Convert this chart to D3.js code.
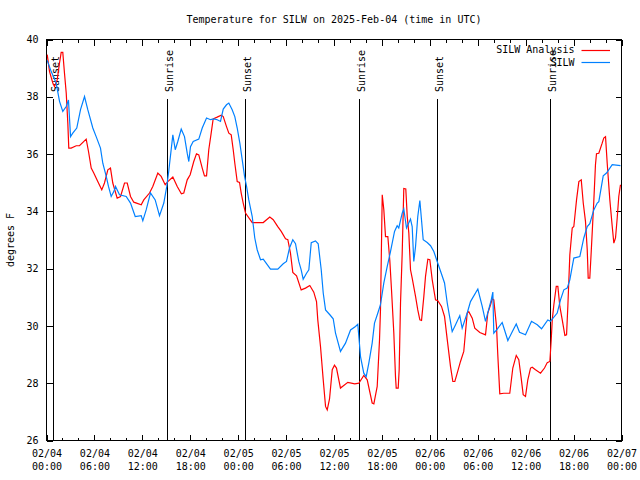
<!DOCTYPE html>
<html><head><meta charset="utf-8">
<script src="https://cdn.jsdelivr.net/npm/d3@7"></script>
<style>
html,body{margin:0;padding:0;background:#fff;}
text{font-family:"DejaVu Sans Mono",monospace;font-size:10px;fill:#000;}
</style></head>
<body><svg id="c" width="640" height="480"></svg>
<script>
const titleText = "Temperature for SILW on 2025-Feb-04 (time in UTC)";
const yLabel = "degrees F";
const seriesNames = ["SILW Analysis", "SILW"];
const seriesColors = ["#ff0000", "#0080ff"];
const yTicks = [26, 28, 30, 32, 34, 36, 38, 40];

// hours since 2025-02-04 00:00 UTC
const analysisHours = [0.09,0.38,0.79,1.00,1.34,1.63,1.84,2.04,2.25,2.47,2.67,2.79,3.09,3.72,4.13,4.97,5.26,5.60,5.92,6.42,6.92,7.26,7.68,8.01,8.30,8.85,9.27,9.77,10.11,10.52,10.93,11.86,12.18,12.90,13.31,13.94,14.36,14.86,15.19,15.82,16.37,16.89,17.19,17.62,17.99,18.44,18.78,19.07,19.50,19.78,20.04,20.32,20.62,20.87,21.37,21.88,22.13,22.54,22.83,23.13,23.38,23.58,23.88,24.17,24.38,24.63,24.92,25.76,27.14,27.96,28.39,28.96,29.39,29.93,30.22,30.55,30.84,31.31,31.89,32.43,32.97,33.47,33.81,33.97,34.31,34.65,34.94,35.15,35.44,35.78,36.06,36.31,36.81,37.73,38.60,39.11,39.73,40.16,40.78,40.99,41.41,41.70,41.82,42.04,42.24,42.45,42.74,42.99,43.20,43.49,43.70,43.79,44.04,44.16,44.33,44.54,44.74,44.99,45.17,45.37,45.58,45.79,46.21,46.49,46.75,46.96,47.25,47.46,47.75,48.00,48.30,48.71,49.00,49.46,49.84,50.18,50.59,50.88,51.13,51.43,51.84,52.25,52.68,52.88,53.31,53.63,54.26,54.97,55.26,55.60,55.81,56.01,56.35,56.51,56.76,57.26,58.01,58.39,58.82,59.14,59.44,59.69,59.98,60.27,60.61,60.82,61.23,61.86,62.36,62.70,63.03,63.20,63.33,63.53,63.83,64.03,64.28,64.58,64.91,65.12,65.28,65.53,65.83,66.03,66.37,66.66,66.96,67.21,67.49,67.71,67.83,68.03,68.21,68.53,68.74,68.87,69.16,69.58,69.78,70.00,70.21,70.54,70.84,71.04,71.25,71.46,71.66,71.87];
const analysisTemps = [39.47,38.88,38.48,38.36,38.59,39.18,39.55,39.55,38.83,38.13,37.08,36.21,36.21,36.29,36.29,36.52,36.09,35.51,35.34,35.04,34.75,34.99,35.45,35.51,34.99,34.46,34.52,34.99,34.99,34.52,34.32,34.23,34.40,34.64,34.87,35.34,35.22,34.93,35.04,35.20,34.87,34.61,34.64,35.10,35.28,35.74,36.01,35.97,35.51,35.24,35.24,36.15,36.73,37.23,37.29,37.36,37.31,36.96,36.73,36.67,36.15,35.68,35.04,35.01,34.64,34.29,33.94,33.61,33.61,33.80,33.71,33.47,33.30,33.04,33.01,32.54,31.87,31.75,31.26,31.32,31.41,31.18,30.85,30.21,29.28,28.12,27.19,27.07,27.45,28.47,28.63,28.53,27.83,28.03,27.98,28.00,28.27,28.12,27.31,27.28,27.89,29.52,30.56,34.58,34.05,33.12,33.12,32.28,31.26,29.75,28.23,27.83,27.83,28.47,30.80,32.54,34.80,34.78,33.82,33.24,31.96,31.67,31.03,30.56,30.21,30.19,31.03,31.73,32.33,32.31,31.61,30.91,30.88,30.68,30.33,29.52,28.58,28.06,28.06,28.35,28.76,29.11,30.45,30.50,30.27,29.92,29.77,29.69,30.45,30.74,30.95,30.91,29.98,28.99,27.63,27.65,27.65,28.53,28.97,28.82,28.18,27.60,27.54,28.12,28.53,28.56,28.47,28.35,28.53,28.72,28.76,29.52,30.21,30.74,31.38,31.38,30.68,30.21,29.67,29.69,30.68,32.48,33.42,33.47,34.40,35.04,35.10,34.29,33.65,32.66,31.67,31.67,32.60,34.34,35.63,36.01,36.03,36.38,36.56,36.61,35.68,34.40,33.47,32.89,33.07,33.76,34.52,34.93];

const obsHours = [0.09,0.59,1.21,1.63,2.04,2.47,2.75,3.01,3.29,3.79,4.26,4.76,5.17,5.80,6.22,6.76,7.05,7.48,7.76,8.10,8.43,8.64,9.14,9.98,10.52,11.11,11.86,12.06,12.48,13.02,13.61,14.15,14.69,15.06,15.28,15.82,16.12,16.44,16.87,17.28,17.62,17.82,18.03,18.37,19.07,19.50,20.04,20.54,20.95,21.38,21.79,22.13,22.54,22.83,23.25,23.58,23.88,24.21,24.51,24.80,25.05,25.33,25.76,26.08,26.38,26.80,27.14,28.05,28.96,29.64,30.05,30.43,30.84,31.18,31.59,31.89,32.14,32.56,32.85,33.15,33.68,34.02,34.40,34.65,34.94,35.48,35.90,36.19,36.81,37.44,38.07,38.69,38.98,39.11,39.32,39.73,40.03,40.36,40.78,41.07,41.49,41.82,42.24,42.66,43.08,43.58,43.91,44.11,44.54,44.74,45.08,45.58,45.79,45.99,46.21,46.49,46.75,46.92,47.17,47.67,48.09,48.50,48.92,49.43,49.84,50.18,50.80,51.22,51.75,52.05,52.68,53.09,54.01,54.56,54.97,55.69,55.89,56.01,56.44,57.06,57.77,58.32,58.82,59.23,59.98,60.73,61.45,61.99,62.77,63.11,63.95,64.36,64.78,65.20,65.53,65.83,66.03,66.78,67.28,67.71,68.03,68.53,68.96,69.16,69.71,70.12,70.84,71.87];
const obsTemps = [39.27,38.88,38.48,37.84,37.49,37.66,37.89,36.61,36.73,36.91,37.55,38.01,37.55,36.91,36.61,36.21,35.68,35.22,34.87,34.52,34.69,34.87,34.58,34.52,34.29,33.82,33.85,33.67,34.05,34.64,34.40,33.85,34.29,34.87,35.34,36.67,36.15,36.44,36.87,36.61,36.03,35.74,36.26,36.44,36.52,36.91,37.26,37.20,37.23,37.20,37.14,37.57,37.72,37.78,37.55,37.31,36.91,36.38,35.80,35.22,34.87,34.40,33.82,33.07,32.66,32.31,32.33,31.98,31.98,32.17,32.25,32.72,33.01,32.87,32.25,31.96,31.63,31.84,31.96,32.91,32.97,32.87,31.96,31.15,30.56,30.39,30.25,29.75,29.11,29.40,29.86,29.98,30.06,29.63,28.93,28.35,28.23,28.70,29.40,30.10,30.45,30.74,31.50,32.07,32.60,33.30,33.50,33.42,33.94,34.08,33.42,33.73,33.47,32.25,32.77,33.82,34.38,33.82,33.01,32.91,32.80,32.60,32.25,31.84,31.50,30.80,29.80,30.04,30.36,29.92,30.45,30.85,31.29,30.68,30.16,30.91,31.18,29.75,29.89,30.12,29.49,29.80,30.07,29.78,29.69,30.16,30.04,29.90,30.21,30.16,30.45,30.91,31.26,31.32,31.61,32.07,32.37,32.42,33.07,33.47,33.57,34.05,34.29,34.34,35.24,35.34,35.63,35.60];

const sunLabels = ["Sunset", "Sunrise", "Sunset", "Sunrise", "Sunset", "Sunrise"];
const sunHours = [0.91, 15.19, 24.96, 39.23, 49.00, 63.15];

const t0 = Date.UTC(2025, 1, 4);
const toDate = h => new Date(t0 + h * 3600e3);

const L = 46.5, R = 621.5, T = 39.5, B = 440.5;
const svg = d3.select("#c");
const x = d3.scaleUtc().domain([toDate(0), toDate(72)]).range([L, R]);
const y = d3.scaleLinear().domain([26, 40]).range([B, T]);

svg.append("defs").append("clipPath").attr("id", "clip")
  .append("rect").attr("x", L).attr("y", T).attr("width", R - L).attr("height", B - T);

// title
svg.append("text").attr("x", 334).attr("y", 23).attr("text-anchor", "middle").text(titleText);
// y label
svg.append("text").attr("transform", "translate(10,240) rotate(-90)")
  .attr("text-anchor", "middle").attr("dy", "0.35em").text(yLabel);

const major = d3.utcHour.every(6).range(toDate(0), toDate(72.01));
const minor = d3.utcHour.every(2).range(toDate(0), toDate(72.01));

function style(g) {
  g.select(".domain").remove();
  g.selectAll("line").attr("stroke", "#000").attr("shape-rendering", "crispEdges");
  g.selectAll("text").attr("font-family", null).attr("font-size", null);
}

// minor ticks
svg.append("g").attr("transform", `translate(0,${B})`)
  .call(d3.axisBottom(x).tickValues(minor).tickSizeInner(-3).tickSizeOuter(0).tickFormat(""))
  .call(style);
svg.append("g").attr("transform", `translate(0,${T})`)
  .call(d3.axisTop(x).tickValues(minor).tickSizeInner(-3).tickSizeOuter(0).tickFormat(""))
  .call(style);
// major x ticks + labels
const xa = svg.append("g").attr("transform", `translate(0,${B})`)
  .call(d3.axisBottom(x).tickValues(major).tickSizeInner(-6).tickSizeOuter(0).tickPadding(8))
  .call(style);
xa.selectAll(".tick text").each(function(d) {
  const t = d3.select(this);
  t.text(null).attr("dy", null).attr("y", null);
  t.append("tspan").attr("x", 0).attr("y", 16.5).text(d3.utcFormat("%m/%d")(d));
  t.append("tspan").attr("x", 0).attr("y", 29.5).text(d3.utcFormat("%H:%M")(d));
});
svg.append("g").attr("transform", `translate(0,${T})`)
  .call(d3.axisTop(x).tickValues(major).tickSizeInner(-6).tickSizeOuter(0).tickFormat(""))
  .call(style);
// y axes
svg.append("g").attr("transform", `translate(${L},0)`)
  .call(d3.axisLeft(y).tickValues(yTicks).tickSizeInner(-6).tickSizeOuter(0).tickPadding(8).tickFormat(d3.format("d")))
  .call(style);
svg.append("g").attr("transform", `translate(${R},0)`)
  .call(d3.axisRight(y).tickValues(yTicks).tickSizeInner(-6).tickSizeOuter(0).tickFormat(""))
  .call(style);

// frame
svg.append("rect").attr("x", L).attr("y", T).attr("width", R - L).attr("height", B - T)
  .attr("fill", "none").attr("stroke", "#000").attr("shape-rendering", "crispEdges");

// sunrise / sunset
const sun = svg.append("g");
sunHours.forEach((h, i) => {
  const px = Math.floor(x(toDate(h))) + 0.5;
  sun.append("line").attr("x1", px).attr("x2", px).attr("y1", 99).attr("y2", B)
    .attr("stroke", "#000").attr("shape-rendering", "crispEdges");
  sun.append("text").attr("transform", `translate(${px + 1.5},92) rotate(-90)`)
    .attr("dy", "0.35em").attr("text-anchor", "start").text(sunLabels[i]);
});

// series
const series = [
  d3.zip(analysisHours, analysisTemps),
  d3.zip(obsHours, obsTemps)
];
const line = d3.line().x(d => x(toDate(d[0]))).y(d => y(d[1]));
const plot = svg.append("g").attr("clip-path", "url(#clip)");
series.forEach((s, i) => {
  plot.append("path").datum(s).attr("d", line).attr("fill", "none")
    .attr("stroke", seriesColors[i]).attr("stroke-width", 1.2);
});

// legend
seriesNames.forEach((n, i) => {
  const yy = 49.5 + i * 12.8;
  svg.append("text").attr("x", 574.5).attr("y", yy).attr("dy", "0.35em")
    .attr("text-anchor", "end").text(n);
  svg.append("line").attr("x1", 581.5).attr("x2", 610).attr("y1", Math.round(yy) + 0.5).attr("y2", Math.round(yy) + 0.5)
    .attr("stroke", seriesColors[i]).attr("stroke-width", 1.2);
});
</script></body></html>
